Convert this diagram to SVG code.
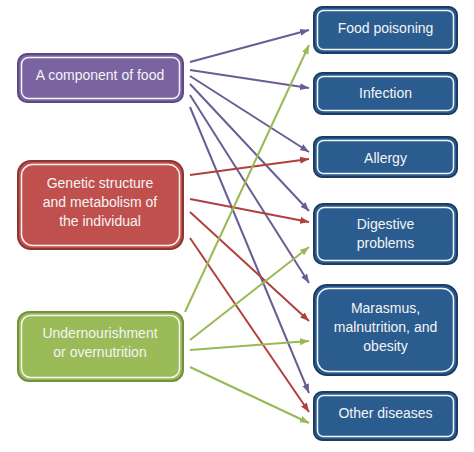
<svg xmlns="http://www.w3.org/2000/svg" width="474" height="452" viewBox="0 0 474 452">
<style>
.t{font-family:"Liberation Sans",Arial,sans-serif;font-size:14px;fill:#F4F4F4;text-anchor:middle}
.inner{fill:none;stroke:#F4F4F4;stroke-width:1.5}
.pu{fill:#7B63A2;stroke:#5E4A82;stroke-width:2}
.re{fill:#C0504D;stroke:#8E3532;stroke-width:2}
.gr{fill:#9BBB59;stroke:#73903C;stroke-width:2}
.bl{fill:#2B5C8F;stroke:#1C3D61;stroke-width:2}
.lp{stroke:#6C5C96;stroke-width:2;fill:none;marker-end:url(#ap)}
.lr{stroke:#B0403E;stroke-width:2;fill:none;marker-end:url(#ar)}
.lg{stroke:#98B954;stroke-width:2;fill:none;marker-end:url(#ag)}
</style>
<defs>
<marker id="ap" markerUnits="userSpaceOnUse" markerWidth="10" markerHeight="8" refX="9" refY="4" orient="auto"><path d="M0,0.5 L9,4 L0,7.5 z" fill="#6C5C96"/></marker>
<marker id="ar" markerUnits="userSpaceOnUse" markerWidth="10" markerHeight="8" refX="9" refY="4" orient="auto"><path d="M0,0.5 L9,4 L0,7.5 z" fill="#B0403E"/></marker>
<marker id="ag" markerUnits="userSpaceOnUse" markerWidth="10" markerHeight="8" refX="9" refY="4" orient="auto"><path d="M0,0.5 L9,4 L0,7.5 z" fill="#98B954"/></marker>
</defs>
<rect width="474" height="452" fill="#FFFFFF"/>
<g id="connectors">
<line class="lp" x1="190" y1="62" x2="309" y2="30"/>
<line class="lp" x1="190" y1="70" x2="309" y2="88"/>
<line class="lp" x1="190" y1="76" x2="309" y2="152"/>
<line class="lp" x1="190" y1="84" x2="309" y2="211"/>
<line class="lp" x1="190" y1="95" x2="309" y2="283"/>
<line class="lp" x1="190" y1="107" x2="309" y2="393"/>
<line class="lr" x1="190" y1="175" x2="309" y2="159"/>
<line class="lr" x1="190" y1="199" x2="309" y2="222"/>
<line class="lr" x1="190" y1="212" x2="309" y2="321"/>
<line class="lr" x1="190" y1="238" x2="309" y2="412"/>
<line class="lg" x1="185" y1="312" x2="309" y2="45"/>
<line class="lg" x1="190" y1="340" x2="309" y2="247"/>
<line class="lg" x1="190" y1="350" x2="309" y2="341"/>
<line class="lg" x1="190" y1="367" x2="309" y2="423"/>
</g>
<g id="n-food">
<rect class="pu" x="18" y="54" width="165" height="48" rx="9"/>
<rect class="inner" x="21.5" y="57.5" width="158" height="41" rx="7"/>
<text class="t" x="100" y="80">A component of food</text>
</g>
<g id="n-genetic">
<rect class="re" x="18" y="161" width="165" height="88" rx="13"/>
<rect class="inner" x="21.5" y="164.5" width="158" height="81" rx="11"/>
<text class="t" x="100" y="188">Genetic structure</text>
<text class="t" x="100" y="207">and metabolism of</text>
<text class="t" x="100" y="226">the individual</text>
</g>
<g id="n-under">
<rect class="gr" x="18" y="312" width="165" height="69" rx="11"/>
<rect class="inner" x="21.5" y="315.5" width="158" height="62" rx="9"/>
<text class="t" x="100" y="338">Undernourishment</text>
<text class="t" x="100" y="357">or overnutrition</text>
</g>
<g id="n-poison">
<rect class="bl" x="314" y="7" width="143" height="46" rx="8"/>
<rect class="inner" x="317.5" y="10.5" width="136" height="39" rx="6"/>
<text class="t" x="385.5" y="33">Food poisoning</text>
</g>
<g id="n-infection">
<rect class="bl" x="314" y="73" width="143" height="41" rx="8"/>
<rect class="inner" x="317.5" y="76.5" width="136" height="34" rx="6"/>
<text class="t" x="385.5" y="98">Infection</text>
</g>
<g id="n-allergy">
<rect class="bl" x="314" y="137" width="143" height="40" rx="8"/>
<rect class="inner" x="317.5" y="140.5" width="136" height="33" rx="6"/>
<text class="t" x="385.5" y="163">Allergy</text>
</g>
<g id="n-digestive">
<rect class="bl" x="314" y="204" width="143" height="60" rx="9"/>
<rect class="inner" x="317.5" y="207.5" width="136" height="53" rx="7"/>
<text class="t" x="385.5" y="229">Digestive</text>
<text class="t" x="385.5" y="248">problems</text>
</g>
<g id="n-marasmus">
<rect class="bl" x="314" y="285" width="143" height="90" rx="13"/>
<rect class="inner" x="317.5" y="288.5" width="136" height="83" rx="11"/>
<text class="t" x="385.5" y="313">Marasmus,</text>
<text class="t" x="385.5" y="332">malnutrition, and</text>
<text class="t" x="385.5" y="351">obesity</text>
</g>
<g id="n-other">
<rect class="bl" x="314" y="392" width="143" height="48" rx="8"/>
<rect class="inner" x="317.5" y="395.5" width="136" height="41" rx="6"/>
<text class="t" x="385.5" y="418">Other diseases</text>
</g>
</svg>
